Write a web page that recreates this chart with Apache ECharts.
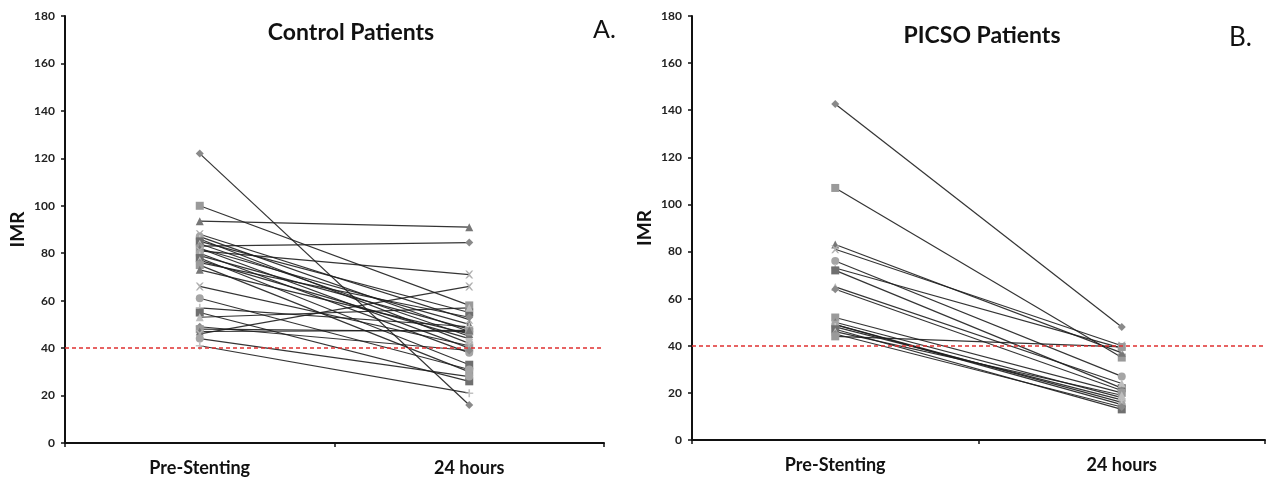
<!DOCTYPE html>
<html>
<head>
<meta charset="utf-8">
<script src="https://cdn.jsdelivr.net/npm/echarts@6/dist/echarts.min.js"></script>
<style>html,body{margin:0;padding:0;background:#fff}#c{width:1287px;height:490px}</style>
</head>
<body>
<div id="c"></div>
<script>
var categories = ['Pre-Stenting', '24 hours'];
var yTicks = [0, 20, 40, 60, 80, 100, 120, 140, 160, 180];
var threshold = 40;

var controlPre  = [122, 100, 93.5, 88, 87, 86, 85, 84, 83, 82, 82, 81, 80, 79, 78, 77, 76, 75, 73, 66, 61, 57, 55, 53, 49, 48, 47, 46, 44, 41];
var controlPost = [16, 58, 91, 52, 47, 42, 55, 45, 84.5, 40, 50, 71, 38, 48, 33, 44, 53, 30, 46, 41, 31, 49, 26, 57, 39, 47, 47.5, 66, 28, 21];

var picsoPre  = [142.6, 107, 83, 81, 76, 73, 72, 65, 64, 52, 50, 49, 49, 48, 47, 46, 45, 44];
var picsoPost = [48, 35, 37, 40, 27, 39, 22, 24, 21, 20, 18, 16, 15, 17, 13, 19, 14, 39.5];

var xPath = 'path://M0,0 L2,0 L5,3 L8,0 L10,0 L6,5 L10,10 L8,10 L5,7 L2,10 L0,10 L4,5 Z';
var plusPath = 'path://M4,0 L6,0 L6,4 L10,4 L10,6 L6,6 L6,10 L4,10 L4,6 L0,6 L0,4 L4,4 Z';
var symbols = ['diamond', 'rect', 'triangle', xPath, 'circle', plusPath, 'rect', 'triangle'];
var shades = ['#8a8a8a', '#9a9a9a', '#777777', '#b0b0b0', '#a5a5a5', '#c2c2c2', '#6f6f6f', '#bdbdbd'];

function buildSeries(pre, post, idx) {
  var out = [];
  for (var i = 0; i < pre.length; i++) {
    out.push({
      type: 'line', xAxisIndex: idx, yAxisIndex: idx,
      data: [pre[i], post[i]],
      symbol: symbols[i % symbols.length],
      symbolSize: 8,
      showSymbol: true,
      itemStyle: { color: shades[i % shades.length] },
      lineStyle: { color: '#1e1e1e', width: 1.2, opacity: 0.9 },
      emphasis: { disabled: true },
      z: 3
    });
  }
  out.push({
    type: 'line', xAxisIndex: idx, yAxisIndex: idx, data: [], silent: true,
    markLine: {
      symbol: 'none', silent: true, label: { show: false },
      lineStyle: { color: '#e03030', type: [4, 3], width: 1.5 },
      data: [{ yAxis: threshold }]
    },
    z: 4
  });
  return out;
}

var fontFam = 'Lato, "Open Sans", sans-serif';

function yAx(idx) {
  return {
    type: 'value', gridIndex: idx, min: yTicks[0], max: yTicks[yTicks.length - 1], interval: 20,
    name: 'IMR', nameLocation: 'middle', nameGap: 38, nameRotate: 90,
    nameTextStyle: { fontFamily: fontFam, fontWeight: 'bold', fontSize: 19, color: '#111' },
    axisLine: { show: true, lineStyle: { color: '#111', width: 2 } },
    axisTick: { show: true, length: 4, lineStyle: { color: '#111', width: 1.5 } },
    axisLabel: { fontFamily: fontFam, fontSize: 12, fontWeight: 'bold', color: '#222', margin: 10 },
    splitLine: { show: false }
  };
}
function xAx(idx) {
  return {
    type: 'category', gridIndex: idx, data: categories, boundaryGap: true,
    axisLine: { show: true, lineStyle: { color: '#111', width: 2 } },
    axisTick: { show: true, length: 4, lineStyle: { color: '#111', width: 1.5 } },
    axisLabel: { fontFamily: fontFam, fontSize: 18, fontWeight: 'bold', color: '#111', margin: 16 },
    splitLine: { show: false }
  };
}

var option = {
  animation: false,
  backgroundColor: '#ffffff',
  title: [
    { text: 'Control Patients', left: 346, top: 16, textAlign: 'center',
      textStyle: { fontFamily: fontFam, fontSize: 23, fontWeight: 'bold', color: '#111' } },
    { text: 'A.', left: 588, top: 12,
      textStyle: { fontFamily: fontFam, fontSize: 25, fontWeight: 'normal', color: '#111' } },
    { text: 'PICSO Patients', left: 977, top: 19, textAlign: 'center',
      textStyle: { fontFamily: fontFam, fontSize: 23, fontWeight: 'bold', color: '#111' } },
    { text: 'B.', left: 1224, top: 20,
      textStyle: { fontFamily: fontFam, fontSize: 26, fontWeight: 'normal', color: '#111' } }
  ],
  grid: [
    { left: 65, right: 683, top: 16, bottom: 47 },
    { left: 692, right: 22, top: 16, bottom: 50 }
  ],
  xAxis: [xAx(0), xAx(1)],
  yAxis: [yAx(0), yAx(1)],
  series: buildSeries(controlPre, controlPost, 0).concat(buildSeries(picsoPre, picsoPost, 1))
};

var chart = echarts.init(document.getElementById('c'), null, { renderer: 'canvas' });
chart.setOption(option);
</script>
</body>
</html>
